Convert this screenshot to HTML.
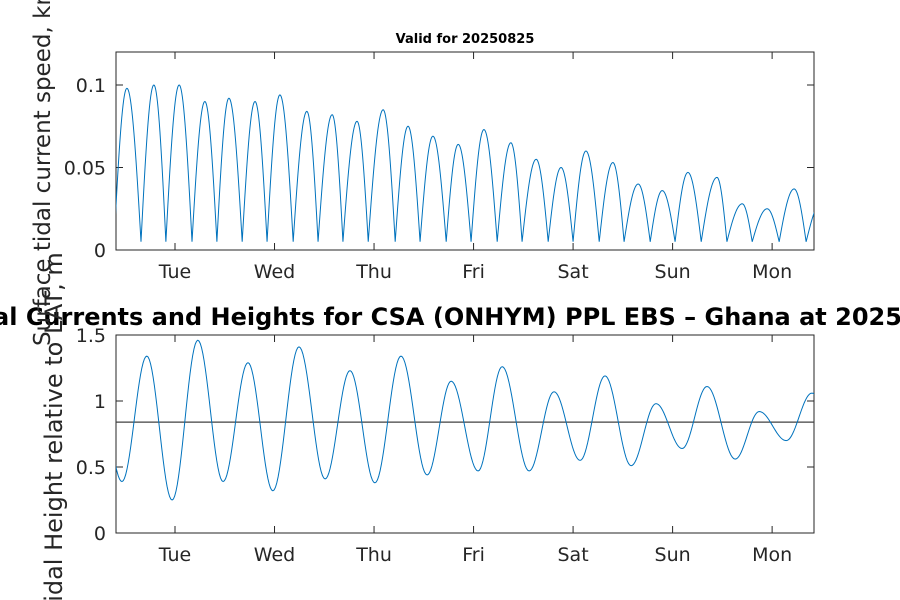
<!DOCTYPE html>
<html><head><meta charset="utf-8"><style>
body{margin:0;background:#fff}
svg{display:block;font-family:"DejaVu Sans","Liberation Sans",sans-serif}
</style></head><body>
<svg id="c" width="900" height="600">
<rect width="900" height="600" fill="#fff"/>
</svg>
<script>
const dayLabels=["Tue","Wed","Thu","Fri","Sat","Sun","Mon"];
const dayHours=[24,48,72,96,120,144,168];
const speedTicks=[0,0.05,0.1];
const speedTickLabels=["0","0.05","0.1"];
const heightTicks=[0,0.5,1,1.5];
const heightTickLabels=["0","0.5","1","1.5"];
const currentTimes=[9.3,12.4,15.8,18.9,21.8,25.0,28.1,31.2,34.1,37.0,40.2,43.3,46.2,49.3,52.5,55.8,58.5,61.9,64.5,67.9,70.6,74.2,77.1,80.2,83.1,86.2,89.4,92.3,95.4,98.5,101.7,105.0,107.7,111.1,114.0,117.1,120.0,123.1,126.3,129.6,132.3,135.7,138.6,141.5,144.6,147.7,150.9,154.7,157.1,160.8,163.2,166.8,169.7,173.3,176.2,180.1];
const currentValues=[0.005,0.098,0.005,0.100,0.005,0.100,0.005,0.090,0.005,0.092,0.005,0.090,0.005,0.094,0.005,0.084,0.005,0.082,0.005,0.078,0.005,0.085,0.005,0.075,0.005,0.069,0.005,0.064,0.005,0.073,0.005,0.065,0.005,0.055,0.005,0.050,0.005,0.060,0.005,0.053,0.005,0.040,0.005,0.036,0.005,0.047,0.005,0.044,0.005,0.028,0.005,0.025,0.005,0.037,0.005,0.030];
const tideTimes=[5.2,11.2,17.2,23.3,29.5,35.6,41.6,47.6,53.9,60.2,66.2,72.2,78.5,84.8,90.6,97.1,102.9,109.4,115.4,121.7,127.7,134.0,140.0,146.3,152.3,159.1,164.9,171.4,177.6,184.0];
const tideValues=[1.2,0.39,1.34,0.25,1.46,0.39,1.29,0.32,1.41,0.41,1.23,0.38,1.34,0.44,1.15,0.47,1.26,0.47,1.07,0.55,1.19,0.51,0.98,0.64,1.11,0.56,0.92,0.70,1.06,0.70];
const meanLevel=[0.84];

const NS="http://www.w3.org/2000/svg";
const svg=document.getElementById('c');
function mk(tag,attrs,parent){const e=document.createElementNS(NS,tag);for(const k in attrs)e.setAttribute(k,attrs[k]);(parent||svg).appendChild(e);return e;}
const X0=116,X1=814,T0=9.77,T1=178.1;
const xs=t=>X0+(t-T0)/(T1-T0)*(X1-X0);

function axes(top,bot,vmax,ticks,labels,name){
  const ys=v=>bot-v/vmax*(bot-top);
  const g=mk('g',{});
  
  
  const cp=mk('clipPath',{id:'cp'+name},g);
  mk('rect',{x:X0,y:top,width:X1-X0,height:bot-top},cp);
  dayHours.forEach((h,i)=>{
    const x=xs(h);
    const t1=mk('line',{x1:x,x2:x,y1:bot,y2:bot-7,stroke:'#262626'},g);
    
    
    mk('line',{x1:x,x2:x,y1:top,y2:top+7,stroke:'#262626'},g);
    const tx=mk('text',{x:x,y:bot+28,'text-anchor':'middle','font-size':19,fill:'#262626'},g);
    tx.textContent=dayLabels[i];
    
    
  });
  ticks.forEach((v,i)=>{
    const y=ys(v);
    mk('line',{x1:X0,x2:X0+7,y1:y,y2:y,stroke:'#262626'},g);
    mk('line',{x1:X1,x2:X1-7,y1:y,y2:y,stroke:'#262626'},g);
    const tx=mk('text',{x:X0-10,y:y+7,'text-anchor':'end','font-size':19,fill:'#262626'},g);
    tx.textContent=labels[i];
    
    
  });
  mk('rect',{x:X0,y:top,width:X1-X0,height:bot-top,fill:'none',stroke:'#262626','stroke-width':1},g);
  return {g,ys,clip:'url(#cp'+name+')'};
}

const A=axes(52,250,0.12,speedTicks,speedTickLabels,'speed-axes');
let d='';
for(let i=0;i<currentTimes.length-1;i++){
  const ta=currentTimes[i],tb=currentTimes[i+1],va=currentValues[i],vb=currentValues[i+1];
  const rising=vb>va;
  for(let k=0;k<=20;k++){
    const f=k/20,t=ta+(tb-ta)*f;
    const v=rising? va+(vb-va)*Math.sin(Math.PI/2*f) : vb+(va-vb)*Math.cos(Math.PI/2*f);
    d+=(d?'L':'M')+xs(t).toFixed(2)+','+A.ys(v).toFixed(2);
  }
}
const p1=mk('path',{d:d,fill:'none',stroke:'#0072BD','stroke-width':1,'clip-path':A.clip},A.g);



const B=axes(335,533,1.5,heightTicks,heightTickLabels,'height-axes');
const ml=mk('line',{x1:X0,x2:X1,y1:B.ys(meanLevel[0]),y2:B.ys(meanLevel[0]),stroke:'#404040','stroke-width':1.2},B.g);


d='';
for(let i=0;i<tideTimes.length-1;i++){
  const ta=tideTimes[i],tb=tideTimes[i+1],va=tideValues[i],vb=tideValues[i+1];
  for(let k=0;k<=20;k++){
    const f=k/20,t=ta+(tb-ta)*f;
    const v=va+(vb-va)*(1-Math.cos(Math.PI*f))/2;
    d+=(d?'L':'M')+xs(t).toFixed(2)+','+B.ys(v).toFixed(2);
  }
}
const p2=mk('path',{d:d,fill:'none',stroke:'#0072BD','stroke-width':1,'clip-path':B.clip},B.g);


</script>
<svg style="position:absolute;left:0;top:0" width="900" height="600">
<text x="465" y="43" text-anchor="middle" font-size="13" font-weight="bold" font-family="DejaVu Sans, sans-serif">Valid for 20250825</text>
<text x="460" y="325" text-anchor="middle" font-size="24" font-weight="bold" font-family="DejaVu Sans, sans-serif">Tidal Currents and Heights for CSA (ONHYM) PPL EBS  – Ghana at 20250825</text>
<text transform="translate(50,151) rotate(-90)" text-anchor="middle" font-size="23" fill="#262626" font-family="DejaVu Sans, sans-serif">Surface tidal current speed, knots</text>
<text transform="translate(62,434) rotate(-90)" text-anchor="middle" font-size="24" fill="#262626" font-family="DejaVu Sans, sans-serif">Tidal Height relative to LAT, m</text>
</svg>
</body></html>
